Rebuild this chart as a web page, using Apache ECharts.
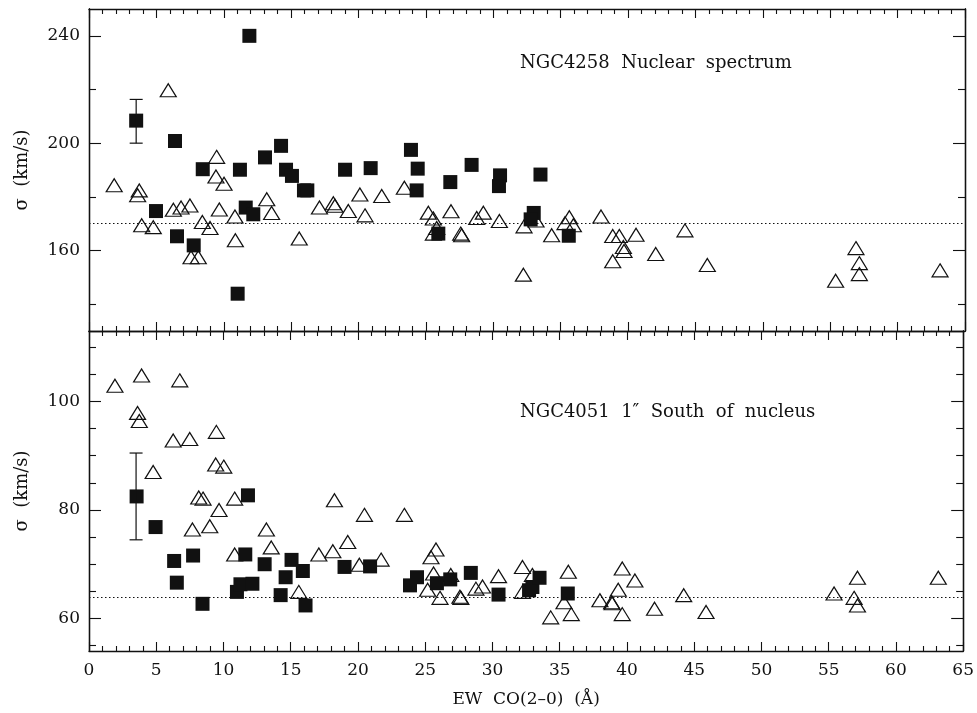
<!DOCTYPE html>
<html>
<head>
<meta charset="utf-8">
<script src="https://cdn.jsdelivr.net/npm/echarts@6/dist/echarts.min.js"></script>
<style>html,body{margin:0;padding:0;background:#fff}#c{width:977px;height:713px}</style>
</head>
<body>
<div id="c"></div>
<script>
// ---------- DATA ----------
const xTicks = [0,5,10,15,20,25,30,35,40,45,50,55,60,65];
const topMajorTicks = [160,200,240];
const topMinorTicks = [140,180,220];
const botMajorTicks = [60,80,100];
const botMinorTicks = [55,65,70,75,85,90,95,105,110];

const topRefLine = 170;
const botRefLine = 64;

// NGC4258 nuclear spectrum: filled squares [EW, sigma]
const topSquares = [[3.5,208.4],[6.38,200.8],[4.97,174.7],[6.53,165.3],[7.77,161.9],[8.44,190.3],[11.03,143.9],[11.2,190.1],[11.9,240],[11.63,176],[12.19,173.5],[13.06,194.7],[14.25,199],[14.62,190.1],[15.06,187.8],[15.95,182.4],[16.2,182.4],[19.0,190.1],[20.9,190.7],[23.89,197.5],[24.39,190.5],[24.31,182.4],[26.81,185.5],[28.39,191.9],[30.5,188.0],[30.42,184.0],[33.5,188.3],[33.0,174.0],[32.77,171.6],[25.92,166.3],[35.6,165.5]];
// NGC4258: open triangles
const topTriangles = [[1.87,184.3],[3.73,182.4],[3.61,180.6],[3.91,169.4],[4.77,168.7],[5.88,219.7],[6.26,175.2],[6.83,176],[7.49,176.8],[7.57,157.5],[8.11,157.5],[8.41,170.6],[8.98,168.4],[9.47,194.9],[9.42,187.6],[10.02,184.9],[9.67,175.3],[10.83,172.7],[10.86,163.8],[13.19,179.1],[13.55,174.0],[15.6,164.5],[17.1,176.0],[18.13,177.6],[18.25,176.7],[19.24,174.7],[20.48,173.1],[20.1,180.9],[21.72,180.3],[23.4,183.4],[25.18,174.1],[25.55,171.9],[25.8,168.4],[25.55,166.3],[26.86,174.6],[27.58,166.3],[27.65,165.7],[28.77,172.1],[29.26,174.1],[30.45,171.0],[32.28,169.0],[32.23,151.0],[33.17,171.2],[34.33,165.7],[35.64,172.4],[35.32,170.2],[35.94,169.4],[37.99,172.7],[38.86,165.4],[38.86,156],[39.35,165.4],[39.65,161.3],[39.7,159.8],[40.59,165.9],[42.05,158.7],[44.22,167.5],[45.88,154.6],[55.4,148.7],[56.91,160.9],[57.16,155.3],[57.16,151.2],[63.15,152.6]];
// NGC4258 error bar [EW, low, high]
const topErr = [[3.5,200.0,216.3]];

// NGC4051 1" South of nucleus: filled squares
const botSquares = [[3.54,82.5],[4.95,76.85],[6.33,70.6],[6.53,66.6],[7.74,71.6],[8.44,62.7],[11.0,64.9],[11.26,66.3],[11.82,82.7],[11.62,71.8],[12.15,66.4],[13.06,70.0],[14.25,64.3],[14.62,67.6],[15.06,70.8],[15.9,68.75],[16.1,62.4],[19.0,69.5],[20.9,69.6],[23.87,66.1],[24.39,67.6],[25.87,66.5],[26.86,67.2],[28.39,68.4],[30.45,64.4],[32.72,65.2],[32.97,65.8],[33.5,67.5],[35.6,64.6]];
// NGC4051: open triangles
const botTriangles = [[1.93,102.9],[3.91,104.8],[6.75,103.9],[3.61,97.9],[3.74,96.4],[4.77,87.0],[6.26,92.8],[7.49,93.1],[9.47,94.4],[9.42,88.4],[10.02,88.0],[7.69,76.4],[8.16,82.3],[8.48,82.1],[8.98,77.0],[9.67,80.0],[10.83,82.1],[10.83,71.8],[13.19,76.4],[13.55,73.1],[15.6,64.9],[17.09,71.8],[18.13,72.4],[18.25,81.8],[19.24,74.1],[20.1,69.9],[20.48,79.1],[21.72,70.85],[23.45,79.1],[25.43,71.3],[25.8,72.7],[25.62,68.3],[25.18,65.3],[26.1,63.8],[26.9,68.0],[27.58,64.0],[27.65,63.8],[28.77,65.5],[29.26,65.9],[30.45,67.8],[32.23,69.5],[32.23,64.9],[32.97,68.0],[34.33,60.2],[35.64,68.6],[35.32,63.0],[35.86,60.8],[37.99,63.35],[38.86,63.0],[38.9,62.8],[39.35,65.3],[39.65,69.2],[39.65,60.8],[40.59,67.0],[42.05,61.8],[44.22,64.3],[45.88,61.2],[55.4,64.6],[57.14,67.5],[56.89,63.8],[57.14,62.4],[63.15,67.5]];
const botErr = [[3.5,74.5,90.5]];

const topLabel = 'NGC4258  Nuclear  spectrum';
const botLabel = 'NGC4051  1\u2033  South  of  nucleus';
const xTitle = 'EW  CO(2\u20130)  (\u00C5)';
const yTitle = '\u03C3  (km/s)';

// ---------- CHART ----------
const FONT = 'DejaVu Serif';
const INK = '#111';
const chart = echarts.init(document.getElementById('c'), null, {renderer:'canvas'});

function xAxis(grid, pos, showLabels) {
  return {
    type:'value', gridIndex:grid, position:pos, min:0, max:65, interval:5,
    axisLine:{show:true, onZero:false, lineStyle:{color:INK, width:1.3}},
    axisTick:{show:true, inside:true, length:9, lineStyle:{color:INK, width:1.1}},
    minorTick:{show:true, splitNumber:5, length:5, lineStyle:{color:INK, width:1.1}},
    splitLine:{show:false}, minorSplitLine:{show:false},
    axisLabel:{show:showLabels, color:INK, fontFamily:FONT, fontSize:17, margin:11,
      customValues: showLabels ? xTicks : undefined},
    name: showLabels ? xTitle : '', nameLocation:'middle', nameGap:40,
    nameTextStyle:{color:INK, fontFamily:FONT, fontSize:17}
  };
}
function yAxis(grid, pos, min, max, ticks, len, labels, name) {
  return {
    type:'value', gridIndex:grid, position:pos, min:min, max:max, offset:0,
    axisLine:{show:true, onZero:false, lineStyle:{color:INK, width:1.3}},
    axisTick:{show:true, inside:true, length:len, customValues:ticks, lineStyle:{color:INK, width:1.1}},
    minorTick:{show:false}, splitLine:{show:false},
    axisLabel:{show:!!labels, customValues: labels || undefined, color:INK, fontFamily:FONT, fontSize:17, margin:9},
    name: name || '', nameLocation:'middle', nameRotate:90, nameGap:58,
    nameTextStyle:{color:INK, fontFamily:FONT, fontSize:18}
  };
}

function errSeries(data, xi, yi) {
  return {
    type:'custom', xAxisIndex:xi, yAxisIndex:yi, data:data, silent:true, z:4,
    renderItem:function(params, api){
      const x = api.value(0), lo = api.value(1), hi = api.value(2);
      const pLo = api.coord([x, lo]), pHi = api.coord([x, hi]);
      const w = 6.5;
      const st = {stroke:INK, lineWidth:1.2};
      return {type:'group', children:[
        {type:'line', shape:{x1:pLo[0], y1:pLo[1], x2:pHi[0], y2:pHi[1]}, style:st},
        {type:'line', shape:{x1:pLo[0]-w, y1:pLo[1], x2:pLo[0]+w, y2:pLo[1]}, style:st},
        {type:'line', shape:{x1:pHi[0]-w, y1:pHi[1], x2:pHi[0]+w, y2:pHi[1]}, style:st}
      ]};
    }
  };
}
function triSeries(data, xi, yi, ref) {
  return {
    type:'scatter', xAxisIndex:xi, yAxisIndex:yi, data:data, symbol:'triangle', symbolSize:[16,13],
    itemStyle:{color:'rgba(0,0,0,0)', borderColor:INK, borderWidth:1.2, opacity:1}, z:2, silent:true,
    markLine:{silent:true, symbol:'none', label:{show:false},
      lineStyle:{color:INK, type:[1.5,2.5], width:1, opacity:1}, data:[{yAxis:ref}]}
  };
}
function sqSeries(data, xi, yi) {
  return {
    type:'scatter', xAxisIndex:xi, yAxisIndex:yi, data:data, symbol:'rect', symbolSize:14,
    itemStyle:{color:'#111', opacity:1}, z:3, silent:true
  };
}

const option = {
  animation:false,
  backgroundColor:'#fff',
  grid:[
    {left:89, top:9, width:876, height:322},
    {left:89, top:331, width:876, height:320}
  ],
  xAxis:[ xAxis(0,'bottom',false), xAxis(0,'top',false), xAxis(1,'bottom',true), xAxis(1,'top',false) ],
  yAxis:[
    yAxis(0,'left',130,250,topMajorTicks,12,topMajorTicks,yTitle),
    yAxis(0,'left',130,250,topMinorTicks,7,null,null),
    yAxis(0,'right',130,250,topMajorTicks,12,null,null),
    yAxis(0,'right',130,250,topMinorTicks,7,null,null),
    yAxis(1,'left',54,113,botMajorTicks,12,botMajorTicks,yTitle),
    yAxis(1,'left',54,113,botMinorTicks,7,null,null),
    yAxis(1,'right',54,113,botMajorTicks,12,null,null),
    yAxis(1,'right',54,113,botMinorTicks,7,null,null)
  ],
  series:[
    triSeries(topTriangles,0,0,topRefLine),
    sqSeries(topSquares,0,0),
    errSeries(topErr,0,0),
    triSeries(botTriangles,2,4,botRefLine),
    sqSeries(botSquares,2,4),
    errSeries(botErr,2,4)
  ],
  graphic:[
    {type:'text', left:520, top:54, style:{text:topLabel, font:'18px "DejaVu Serif"', fill:INK}},
    {type:'text', left:520, top:403, style:{text:botLabel, font:'18px "DejaVu Serif"', fill:INK}}
  ]
};
chart.setOption(option);
</script>
</body>
</html>
